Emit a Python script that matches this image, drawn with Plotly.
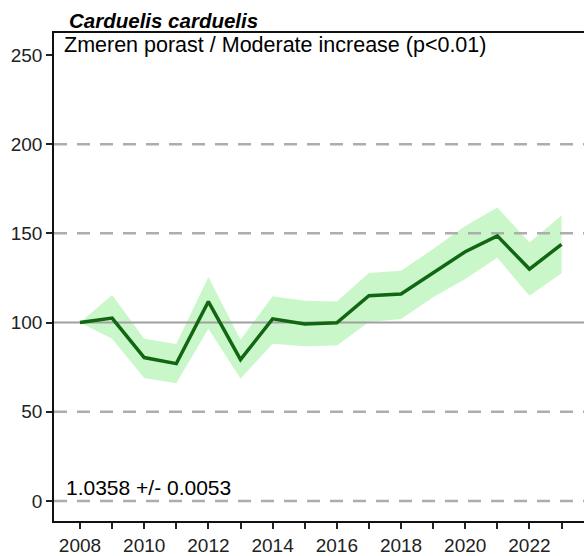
import plotly.graph_objects as go

years = list(range(2008, 2024))
index = [100, 102.5, 80.4, 77, 111.8, 79.2, 102.1, 99.2, 99.9, 115.1, 116, 127.8, 139.7, 148.6, 130, 143.8]
upper = [100, 115.5, 91, 88, 125.5, 90.4, 114.8, 112.3, 111.8, 127.8, 129, 141.2, 154.2, 164.5, 144.9, 160]
lower = [100, 91, 69, 66, 96.5, 68.6, 88.2, 86.8, 87.2, 100.3, 102, 114.2, 124.4, 136.3, 115.1, 127.6]

y_ticks = [0, 50, 100, 150, 200, 250]
dashed_levels = [0, 50, 150, 200]
baseline_level = 100
x_tick_vals = years
x_tick_text = [str(y) if y % 2 == 0 else "" for y in years]

title_text = "<b><i>Carduelis carduelis</i></b>"
trend_text = "Zmeren porast / Moderate increase (p<0.01)"
slope_text = "1.0358 +/- 0.0053"

X_RANGE = [2007.19, 2023.70]
Y_RANGE = [-11.2, 262.3]
FONT = "Liberation Sans, Arial, sans-serif"

fig = go.Figure()

# confidence band
fig.add_trace(go.Scatter(x=years, y=upper, mode="lines", line=dict(width=0),
                         hoverinfo="skip", showlegend=False))
fig.add_trace(go.Scatter(x=years, y=lower, mode="lines", line=dict(width=0),
                         fill="tonexty", fillcolor="rgba(150,240,150,0.5)",
                         hoverinfo="skip", showlegend=False))

# reference lines
for lv in dashed_levels:
    fig.add_trace(go.Scatter(x=X_RANGE, y=[lv, lv], mode="lines",
                             line=dict(color="#adadad", width=2.5, dash="13px,10px"),
                             hoverinfo="skip", showlegend=False))
fig.add_trace(go.Scatter(x=X_RANGE, y=[baseline_level, baseline_level], mode="lines",
                         line=dict(color="#a0a0a0", width=2),
                         hoverinfo="skip", showlegend=False))

# index line
fig.add_trace(go.Scatter(x=years, y=index, mode="lines",
                         line=dict(color="#116611", width=3.5),
                         showlegend=False))

fig.update_layout(
    width=584, height=556,
    margin=dict(l=54, r=0, t=33, b=33, pad=0),
    paper_bgcolor="white", plot_bgcolor="white",
    font=dict(family=FONT, color="#222222"),
    xaxis=dict(range=X_RANGE, tickvals=x_tick_vals, ticktext=x_tick_text,
               ticks="outside", ticklen=6, tickwidth=2, tickcolor="#222",
               showline=True, linecolor="#111", linewidth=1.5, mirror=True,
               showgrid=False, zeroline=False, tickfont=dict(size=19, family=FONT)),
    yaxis=dict(range=Y_RANGE, tickvals=y_ticks,
               ticks="outside", ticklen=6, tickwidth=2, tickcolor="#222",
               showline=True, linecolor="#111", linewidth=1.5, mirror=False,
               showgrid=False, zeroline=False, tickfont=dict(size=19, family=FONT)),
    annotations=[
        dict(text=title_text, xref="paper", yref="paper", x=(67 - 54) / 530, y=1 + (33 - 20) / 490,
             xanchor="left", yanchor="middle", showarrow=False,
             font=dict(size=20.5, family=FONT, color="black")),
        dict(text=trend_text, xref="paper", yref="paper", x=(62 - 54) / 530, y=1 - (45 - 33) / 490,
             xanchor="left", yanchor="middle", showarrow=False,
             font=dict(size=21.5, family=FONT, color="black")),
        dict(text=slope_text, xref="paper", yref="paper", x=(64 - 54) / 530, y=1 - (489 - 33) / 490,
             xanchor="left", yanchor="middle", showarrow=False,
             font=dict(size=21, family=FONT, color="black")),
    ],
)

fig.write_html("out.html", config={"displayModeBar": False},
               post_script="document.body.style.margin='0';")
